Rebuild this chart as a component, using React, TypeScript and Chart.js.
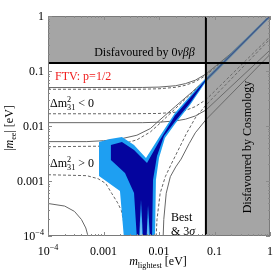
import React, { useEffect, useRef } from "react";
import { Chart, registerables } from "chart.js";

Chart.register(...registerables);

type P = [number, number];

// ---- axes ----
const xTickValues = [1e-4, 1e-3, 1e-2, 1e-1, 1];
const xTickLabels = ["10^−4", "0.001", "0.01", "0.1", "1"];
const yTickValues = [1e-4, 1e-3, 1e-2, 1e-1, 1];
const yTickLabels = ["10^−4", "0.001", "0.01", "0.1", "1"];

// ---- bounds ----
const cosmologyBound = 0.07;
const doubleBetaBound = 0.14;

// ---- inverted ordering (Δm²31 < 0): solid = 3σ, dashed = best fit ----
const ioUpper3s: P[] = [[1e-4, 0.05], [0.005, 0.0502], [0.01, 0.051], [0.02, 0.054], [0.03, 0.059], [0.045, 0.068], [0.07, 0.088], [0.2, 0.21], [1, 1.0]];
const ioUpperBest: P[] = [[1e-4, 0.0465], [0.005, 0.0467], [0.01, 0.0475], [0.02, 0.0505], [0.03, 0.055], [0.045, 0.064], [0.07, 0.083], [0.2, 0.205], [1, 1.0]];
const ioLowerBest: P[] = [[1e-4, 0.0167], [0.003, 0.0167], [0.01, 0.0169], [0.02, 0.0178], [0.03, 0.0192], [0.045, 0.0225], [0.07, 0.03], [1, 0.42]];
const ioLower3s: P[] = [[1e-4, 0.0115], [0.005, 0.0115], [0.01, 0.0117], [0.02, 0.0124], [0.03, 0.0133], [0.045, 0.0152], [0.07, 0.0195], [1, 0.24]];

// ---- normal ordering (Δm²31 > 0) ----
const noUpper3s: P[] = [[1e-4, 0.0052], [0.0005, 0.0052], [0.001, 0.0054], [0.002, 0.0058], [0.004, 0.0068], [0.007, 0.009], [0.01, 0.0125], [0.02, 0.023], [0.04, 0.042], [0.07, 0.071], [0.2, 0.2], [1, 1.0]];
const noUpperBest: P[] = [[1e-4, 0.0042], [0.001, 0.0043], [0.002, 0.0046], [0.004, 0.0056], [0.007, 0.0078], [0.01, 0.0108], [0.02, 0.021], [0.04, 0.041], [0.07, 0.07], [1, 1.0]];
const noLower3sLeft: P[] = [[1e-4, 0.00039], [0.0002, 0.00035], [0.0003, 0.00028], [0.0004, 0.0002], [0.00048, 0.00014], [0.00054, 0.00009]];
const noLower3sRight: P[] = [[0.0118, 0.00008], [0.0122, 0.0002], [0.0135, 0.0006], [0.016, 0.0012], [0.02, 0.0018], [0.025, 0.0025], [0.035, 0.0048], [0.045, 0.0075], [0.07, 0.013], [1, 0.2]];
const noLowerBestLeft: P[] = [[1e-4, 0.0013], [0.0005, 0.00125], [0.0008, 0.0011], [0.0011, 0.0009], [0.0014, 0.0006], [0.0018, 0.0004], [0.0021, 0.00029], [0.0024, 0.00015], [0.0026, 0.00008]];
const noLowerBestRight: P[] = [[0.0088, 0.00008], [0.0092, 0.0002], [0.0105, 0.0006], [0.013, 0.0012], [0.0165, 0.002], [0.0205, 0.0031], [0.031, 0.0072], [0.045, 0.014], [0.07, 0.024], [1, 0.38]];

// ---- FTV p=1/2 region ----
const ftvOuter: P[] = [
  [0.00083, 0.00512], [0.00131, 0.00581], [0.00215, 0.00631], [0.00355, 0.00452], [0.00583, 0.00262],
  [0.0104, 0.00658], [0.0194, 0.0172], [0.0362, 0.0351], [0.0674, 0.0716], [1, 1.064],
  [1, 0.939], [0.0674, 0.0605], [0.0362, 0.0241], [0.0194, 0.01087], [0.0128, 0.00605],
  [0.01, 0.00262], [0.0088, 0.00104], [0.00847, 0.00009], [0.00234, 0.00009], [0.00198, 0.000658],
  [0.00083, 0.00123],
];
const ftvInner: P[] = [
  [0.00136, 0.00452], [0.00215, 0.00512], [0.00355, 0.00366], [0.00608, 0.00212],
  [0.0104, 0.00556], [0.0194, 0.0155], [0.0362, 0.0323], [0.0674, 0.0672], [1, 1.021],
  [1, 0.979], [0.0674, 0.0644], [0.0362, 0.0262], [0.0194, 0.01208], [0.0123, 0.00658],
  [0.0092, 0.00285], [0.0078, 0.00104], [0.00748, 0.00009], [0.004, 0.00009], [0.00355, 0.000605],
  [0.00244, 0.0014], [0.00136, 0.00241],
];
const ftvSpike1Outer: P[] = [[0.00437, 0.00009], [0.00474, 0.000451], [0.00515, 0.00009]];
const ftvSpike1Inner: P[] = [[0.00464, 0.00009], [0.00474, 0.000273], [0.00484, 0.00009]];
const ftvSpike2Outer: P[] = [[0.00596, 0.00009], [0.00634, 0.000366], [0.00689, 0.00009]];
const ftvSpike2Inner: P[] = [[0.00624, 0.00009], [0.00634, 0.000231], [0.00645, 0.00009]];

// ---- colours ----
const LIGHT_BLUE = "#1e9ff2";
const DARK_BLUE = "#04049e";
const LINE_GRAY = "#666666";
const SHADE = "rgba(110,110,110,0.62)";
const FONT = '"Liberation Serif", "Times New Roman", serif';

const pts = (a: P[]) => a.map(([x, y]) => ({ x, y }));

function lineDs(data: P[], dashed: boolean, order: number, color = LINE_GRAY, width = 1) {
  return {
    data: pts(data),
    borderColor: color,
    borderWidth: width,
    borderDash: dashed ? [3, 2] : [],
    pointRadius: 0,
    fill: false,
    order,
    tension: 0,
  };
}
function polyDs(data: P[], color: string, order: number) {
  return {
    data: pts(data),
    backgroundColor: color,
    borderColor: "transparent",
    borderWidth: 0,
    pointRadius: 0,
    fill: "shape",
    order,
    tension: 0,
  };
}

type Run = { t: string; sup?: string; sub?: string; italic?: boolean };
const fnt = (size: number, italic?: boolean) => `${italic ? "italic " : ""}${size}px ${FONT}`;

function runWidth(ctx: CanvasRenderingContext2D, r: Run, size: number) {
  let w = 0;
  if (r.t) {
    ctx.font = fnt(size, r.italic);
    w += ctx.measureText(r.t).width;
  }
  ctx.font = fnt(size * 0.68, false);
  const a = r.sup ? ctx.measureText(r.sup).width : 0;
  const b = r.sub ? ctx.measureText(r.sub).width : 0;
  return w + Math.max(a, b);
}

function drawRuns(ctx: CanvasRenderingContext2D, runs: Run[], x: number, y: number, size: number, align: string, color: string) {
  const total = runs.reduce((s, r) => s + runWidth(ctx, r, size), 0);
  let cx = align === "center" ? x - total / 2 : align === "right" ? x - total : x;
  ctx.fillStyle = color;
  ctx.textBaseline = "alphabetic";
  ctx.textAlign = "left";
  for (const r of runs) {
    if (r.t) {
      ctx.font = fnt(size, r.italic);
      ctx.fillText(r.t, cx, y);
      cx += ctx.measureText(r.t).width;
    }
    ctx.font = fnt(size * 0.68, false);
    let w = 0;
    if (r.sup) {
      ctx.fillText(r.sup, cx, y - size * 0.4);
      w = Math.max(w, ctx.measureText(r.sup).width);
    }
    if (r.sub) {
      ctx.fillText(r.sub, cx, y + size * 0.25);
      w = Math.max(w, ctx.measureText(r.sub).width);
    }
    cx += w;
  }
}

function tickRuns(label: string): Run[] {
  const i = label.indexOf("^");
  if (i >= 0) return [{ t: label.slice(0, i), sup: label.slice(i + 1) }];
  return [{ t: label }];
}

const decorPlugin = {
  id: "decor",
  afterDatasetsDraw(chart: any) {
    const ctx: CanvasRenderingContext2D = chart.ctx;
    const { left, right, top, bottom } = chart.chartArea;
    const xs = chart.scales.x;
    const ys = chart.scales.y;
    ctx.save();
    // frame
    ctx.strokeStyle = "#7a7a7a";
    ctx.lineWidth = 1;
    ctx.strokeRect(left + 0.5, top + 0.5, right - left - 1, bottom - top - 1);
    // inward ticks
    ctx.strokeStyle = "#8a8a8a";
    ctx.beginPath();
    for (let d = -4; d <= 0; d++) {
      for (let k = 1; k <= 9; k++) {
        const v = k * Math.pow(10, d);
        if (v > 1.0001) break;
        const len = k === 1 ? 4 : 2;
        const px = Math.round(xs.getPixelForValue(v)) + 0.5;
        ctx.moveTo(px, bottom);
        ctx.lineTo(px, bottom - len);
        ctx.moveTo(px, top);
        ctx.lineTo(px, top + len);
        const py = Math.round(ys.getPixelForValue(v)) + 0.5;
        ctx.moveTo(left, py);
        ctx.lineTo(left + len, py);
        ctx.moveTo(right, py);
        ctx.lineTo(right - len, py);
      }
    }
    ctx.stroke();
    // tick labels
    xTickValues.forEach((v, i) => {
      drawRuns(ctx, tickRuns(xTickLabels[i]), xs.getPixelForValue(v), bottom + 19, 12, "center", "#000");
    });
    yTickValues.forEach((v, i) => {
      drawRuns(ctx, tickRuns(yTickLabels[i]), left - 4, ys.getPixelForValue(v) + 4, 12, "right", "#000");
    });
    // axis titles
    drawRuns(ctx, [{ t: "m", italic: true, sub: "lightest" }, { t: " [eV]" }], 158, 265, 12, "center", "#000");
    ctx.save();
    ctx.translate(13, 128);
    ctx.rotate(-Math.PI / 2);
    drawRuns(ctx, [{ t: "|" }, { t: "m", italic: true, sub: "ee" }, { t: "| [eV]" }], 0, 0, 12, "center", "#000");
    ctx.restore();
    // annotations
    drawRuns(ctx, [{ t: "Disfavoured by 0" }, { t: "νββ", italic: true }], 144.5, 56, 12, "center", "#000");
    drawRuns(ctx, [{ t: "FTV: p=1/2" }], 55, 80, 12, "left", "#f01c1c");
    drawRuns(ctx, [{ t: "Δm", sup: "2", sub: "31" }, { t: " < 0" }], 50, 107, 12, "left", "#000");
    drawRuns(ctx, [{ t: "Δm", sup: "2", sub: "31" }, { t: " > 0" }], 50, 167, 12, "left", "#000");
    drawRuns(ctx, [{ t: "Best" }], 171, 221, 12, "left", "#000");
    drawRuns(ctx, [{ t: "& 3" }, { t: "σ", italic: true }], 171, 235, 12, "left", "#000");
    ctx.save();
    ctx.translate(251, 147);
    ctx.rotate(-Math.PI / 2);
    drawRuns(ctx, [{ t: "Disfavoured by Cosmology" }], 0, 0, 12, "center", "#000");
    ctx.restore();
    ctx.restore();
  },
};

export default function App() {
  const ref = useRef<HTMLCanvasElement | null>(null);
  useEffect(() => {
    document.body.style.margin = "0";
    const canvas = ref.current;
    if (!canvas) return;
    const datasets: any[] = [
      lineDs(ioUpper3s, false, 20),
      lineDs(ioUpperBest, true, 20),
      lineDs(ioLower3s, false, 20),
      lineDs(ioLowerBest, true, 20),
      lineDs(noUpper3s, false, 20),
      lineDs(noUpperBest, true, 20),
      lineDs(noLower3sLeft, false, 20),
      lineDs(noLower3sRight, false, 20),
      lineDs(noLowerBestLeft, true, 20),
      lineDs(noLowerBestRight, true, 20),
      polyDs(ftvOuter, LIGHT_BLUE, 10),
      polyDs(ftvInner, DARK_BLUE, 9),
      polyDs(ftvSpike1Outer, LIGHT_BLUE, 8),
      polyDs(ftvSpike2Outer, LIGHT_BLUE, 8),
      polyDs(ftvSpike1Inner, "#ffffff", 7),
      polyDs(ftvSpike2Inner, "#ffffff", 7),
      polyDs([[1e-4, doubleBetaBound], [1, doubleBetaBound], [1, 1], [1e-4, 1]], SHADE, 3),
      polyDs([[cosmologyBound, 1e-4], [1, 1e-4], [1, doubleBetaBound], [cosmologyBound, doubleBetaBound]], SHADE, 3),
      lineDs([[cosmologyBound, 1e-4], [cosmologyBound, 1]], false, 1, "#000", 2),
      lineDs([[1e-4, doubleBetaBound], [1, doubleBetaBound]], false, 1, "#000", 2),
    ];
    const chart = new Chart(canvas, {
      type: "line",
      data: { datasets },
      options: {
        animation: false,
        responsive: false,
        maintainAspectRatio: false,
        devicePixelRatio: 1,
        events: [],
        layout: { padding: { left: 48, top: 16, right: 3, bottom: 38 } },
        plugins: { legend: { display: false }, tooltip: { enabled: false } },
        scales: {
          x: { type: "logarithmic", min: 1e-4, max: 1, display: false },
          y: { type: "logarithmic", min: 1e-4, max: 1, display: false },
        },
      },
      plugins: [decorPlugin],
    } as any);
    return () => chart.destroy();
  }, []);
  return (
    <div style={{ width: 273, height: 274 }}>
      <canvas ref={ref} width={273} height={274} style={{ display: "block" }} />
    </div>
  );
}
